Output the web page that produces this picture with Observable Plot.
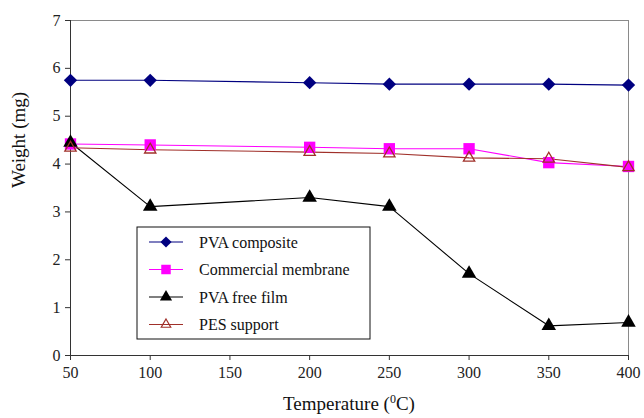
<!DOCTYPE html>
<html><head><meta charset="utf-8">
<script src="https://cdn.jsdelivr.net/npm/d3@7"></script>
<script src="https://cdn.jsdelivr.net/npm/@observablehq/plot@0.6"></script>
</head>
<body style="margin:0;background:#fff;font-family:serif">
<div id="chart"></div>
<script>
const temps = [50, 100, 200, 250, 300, 350, 400];
const seriesNames = ["PVA composite", "Commercial membrane", "PVA free film", "PES support"];
const pvaComposite = [5.75, 5.75, 5.70, 5.67, 5.67, 5.67, 5.65];
const commercial = [4.42, 4.40, 4.35, 4.32, 4.32, 4.03, 3.95];
const freeFilm = [4.45, 3.11, 3.30, 3.11, 1.71, 0.62, 0.69];
const pesSupport = [4.34, 4.30, 4.25, 4.22, 4.13, 4.11, 3.93];
const xTicks = [50, 100, 150, 200, 250, 300, 350, 400];
const yTicks = [0, 1, 2, 3, 4, 5, 6, 7];
const xLabel = "Temperature (";
const xLabelSup = "0";
const xLabelEnd = "C)";
const yLabel = "Weight (mg)";

const colors = ["#000080", "#FF00FF", "#000000", "#A0302A"];
const symbols = ["diamond2", "square", "triangle", "triangle2"];
const fills = ["#000080", "#FF00FF", "#000000", "none"];
const radii = [6.0, 6.4, 5.4, 5.4];

const values = [pvaComposite, commercial, freeFilm, pesSupport];
const data = [];
values.forEach((vals, i) => vals.forEach((v, j) => data.push({series: seriesNames[i], t: temps[j], w: v, i})));

const font = "serif";

const marks = [
  Plot.frame({stroke: "#8a8a8a"}),
  Plot.ruleX([50], {stroke: "#333"}),
  Plot.ruleY([0], {stroke: "#333"}),
  Plot.axisX({ticks: xTicks, tickFormat: "d", tickSize: 5, tickPadding: 6, fontSize: 16, label: null, stroke: "#333", fill: "#222"}),
  Plot.axisY({ticks: yTicks, tickFormat: "d", tickSize: 5, tickPadding: 5, fontSize: 16, label: null, stroke: "#333", fill: "#222"}),
  Plot.text([yLabel], {frameAnchor: "left", dx: -52, rotate: -90, fontSize: 19, fill: "#111"})
];
seriesNames.forEach((s, i) => {
  const d = data.filter(r => r.i === i);
  marks.push(Plot.line(d, {x: "t", y: "w", stroke: colors[i], strokeWidth: 1.1}));
});
seriesNames.forEach((s, i) => {
  const d = data.filter(r => r.i === i);
  marks.push(Plot.dot(d, {x: "t", y: "w", symbol: () => symbols[i], r: radii[i],
    fill: fills[i], stroke: colors[i], strokeWidth: fills[i] === "none" ? 1.3 : 0}));
});

const plot = Plot.plot({
  width: 644,
  height: 418,
  marginLeft: 70,
  marginRight: 16,
  marginTop: 20,
  marginBottom: 63,
  style: {fontFamily: font, fontSize: "16px"},
  x: {domain: [50, 400]},
  y: {domain: [0, 7]},
  symbol: {type: "identity"},
  marks
});
document.getElementById("chart").appendChild(plot);

const svg = d3.select(plot);
svg.attr("font-family", font);

const xt = svg.append("text")
  .attr("x", 349).attr("y", 410)
  .attr("text-anchor", "middle")
  .attr("font-size", 19).attr("fill", "#111");
xt.append("tspan").text(xLabel);
xt.append("tspan").attr("font-size", 12).attr("dy", -7).text(xLabelSup);
xt.append("tspan").attr("dy", 7).text(xLabelEnd);

const lg = svg.append("g").attr("transform", "translate(137,227)");
lg.append("rect").attr("width", 233).attr("height", 112)
  .attr("fill", "#fff").attr("stroke", "#111").attr("stroke-width", 1);
const symMap = {diamond2: d3.symbolDiamond2, square: d3.symbolSquare, triangle: d3.symbolTriangle, triangle2: d3.symbolTriangle2};
seriesNames.forEach((s, i) => {
  const cy = 15 + i * 27.5;
  const row = lg.append("g").attr("transform", `translate(0,${cy})`);
  row.append("line").attr("x1", 12).attr("x2", 46).attr("y1", 0).attr("y2", 0)
    .attr("stroke", colors[i]).attr("stroke-width", 1.1);
  row.append("path")
    .attr("d", d3.symbol(symMap[symbols[i]], Math.PI * radii[i] * radii[i] * 0.7)())
    .attr("transform", "translate(29,0)")
    .attr("fill", fills[i]).attr("stroke", colors[i])
    .attr("stroke-width", fills[i] === "none" ? 1.2 : 0);
  row.append("text").attr("x", 62).attr("y", 0).attr("dy", "0.35em")
    .attr("text-anchor", "start")
    .attr("font-size", 16).attr("fill", "#111")
    .text(s);
});
svg.selectAll("text").attr("font-family", font);
</script>
</body>
</html>
